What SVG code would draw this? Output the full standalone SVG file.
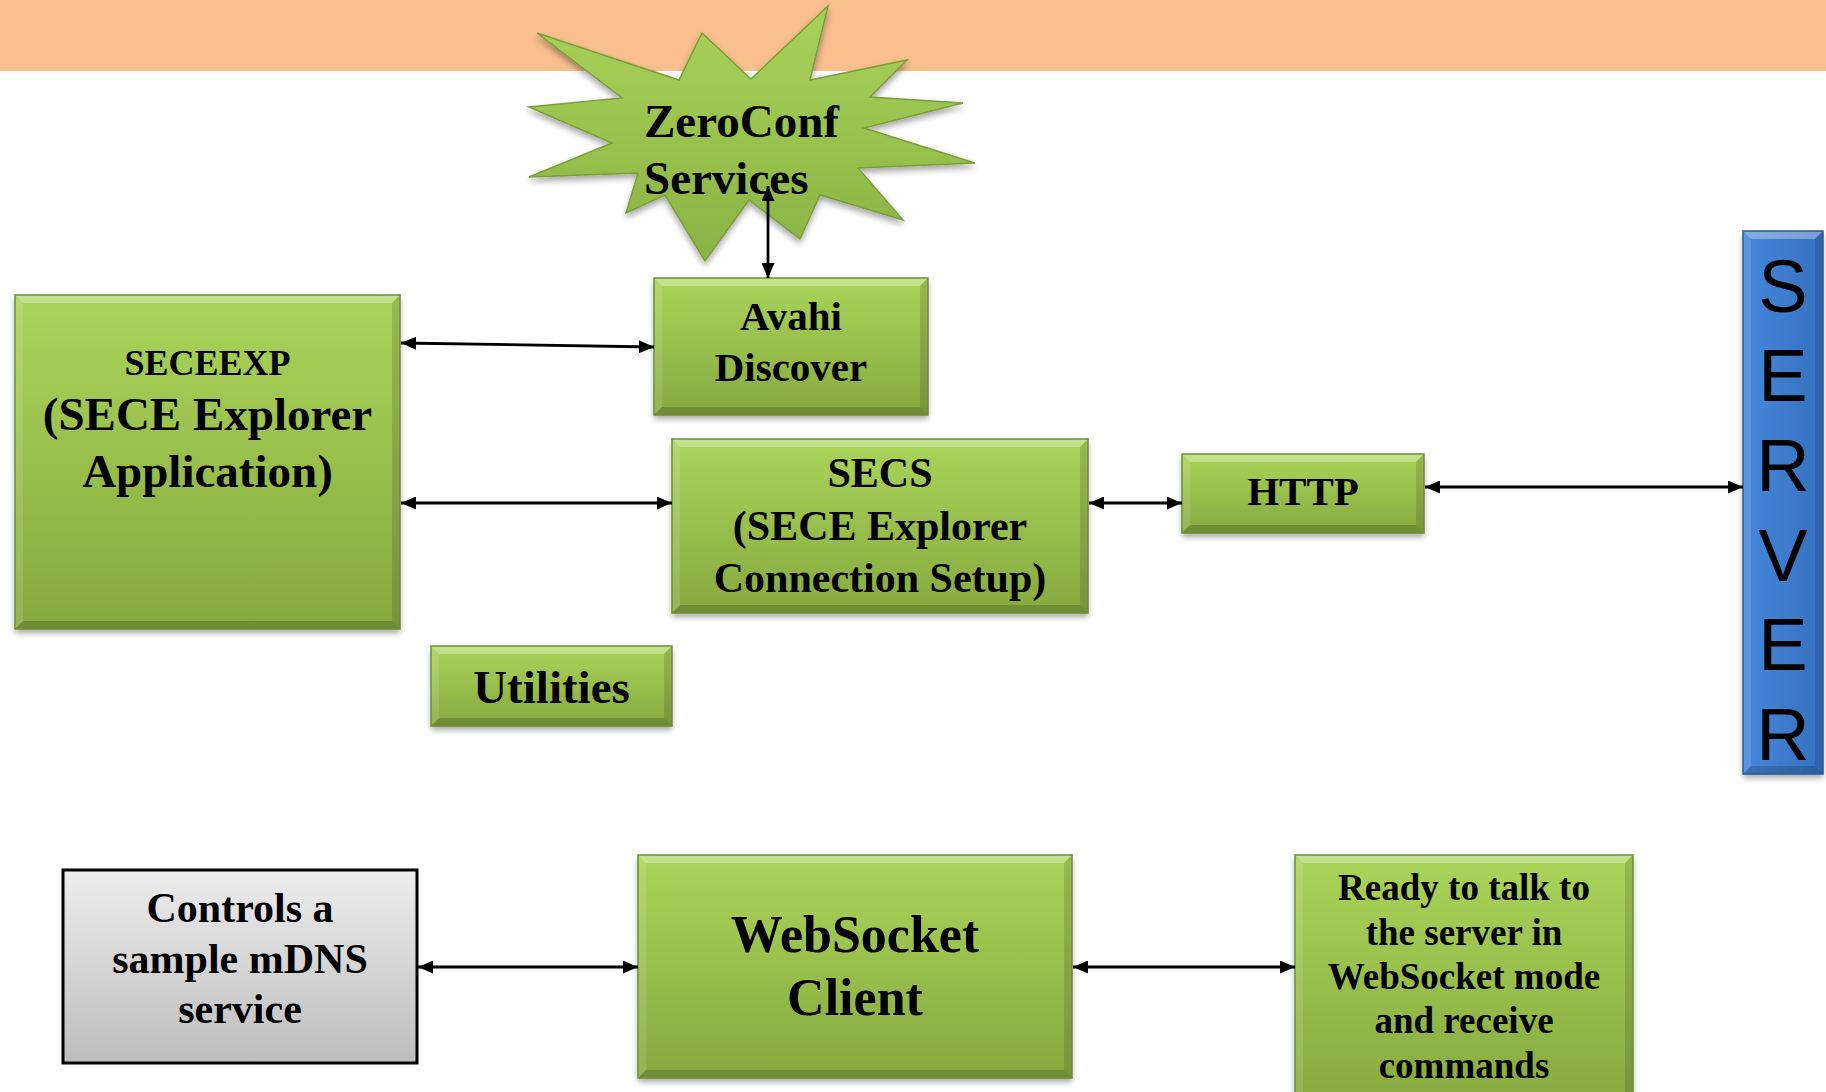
<svg xmlns="http://www.w3.org/2000/svg" width="1826" height="1092" viewBox="0 0 1826 1092">
  <defs>
    <linearGradient id="gGreen" x1="0" y1="0" x2="0" y2="1">
      <stop offset="0" stop-color="#AAD45A"/>
      <stop offset="1" stop-color="#86A93F"/>
    </linearGradient>
    <linearGradient id="gStar" x1="0" y1="0" x2="0" y2="1">
      <stop offset="0" stop-color="#A9D25A"/>
      <stop offset="1" stop-color="#8AB244"/>
    </linearGradient>
    <linearGradient id="gGray" x1="0" y1="0" x2="0" y2="1">
      <stop offset="0" stop-color="#EDEDED"/>
      <stop offset="1" stop-color="#BDBDBD"/>
    </linearGradient>
    <linearGradient id="gBlue" x1="0" y1="0" x2="1" y2="0">
      <stop offset="0" stop-color="#4688DA"/>
      <stop offset="1" stop-color="#3570C0"/>
    </linearGradient>
    <filter id="shadow" x="-10%" y="-10%" width="120%" height="125%">
      <feDropShadow dx="0" dy="4" stdDeviation="3" flood-color="#000" flood-opacity="0.35"/>
    </filter>
    <marker id="arr" viewBox="0 0 15 13" refX="15" refY="6.5" markerWidth="15" markerHeight="13" markerUnits="userSpaceOnUse" orient="auto-start-reverse">
      <path d="M0,0 L15,6.5 L0,13 z" fill="#000"/>
    </marker>
  </defs>
  <style>
    .box { fill: url(#gGreen); filter: url(#shadow); }
    .edge { fill: none; stroke: #6F8E33; stroke-width: 1.5; }
    .bt { fill: #FFFFFF; fill-opacity: 0.32; }
    .bl { fill: #FFFFFF; fill-opacity: 0.12; }
    .br { fill: #000000; fill-opacity: 0.12; }
    .bb { fill: #000000; fill-opacity: 0.17; }
    .t { font-family: "Liberation Serif", "Times New Roman", serif; font-weight: bold; fill: #000; text-anchor: middle; }
    .srv { font-family: "Liberation Sans", Arial, sans-serif; font-size: 74px; fill: #000; text-anchor: middle; }
    .con { stroke: #000; stroke-width: 2.8; fill: none; marker-start: url(#arr); marker-end: url(#arr); }
  </style>

  <rect id="band" x="0" y="0" width="1826" height="71" fill="#F8BF8D"/>

  <g id="zeroconf">
    <polygon points="537,33 679,80 702,33 751,79 828,6 810,80 907,60 870,97 963,103 864,128 975,163 858,168 903,220 820,195 800,239 749,200 705,261 665,195 626,213 638,173 529,177 612,143 529,107 622,98" fill="url(#gStar)" stroke="#7C9F38" stroke-width="1.5" filter="url(#shadow)"/>
    <text class="t" style="text-anchor:start" x="644" y="137" font-size="47">ZeroConf</text>
    <text class="t" style="text-anchor:start" x="644" y="194" font-size="47">Services</text>
  </g>

  <g id="seceexp">
    <rect class="box" x="15" y="295" width="385" height="334"/>
    <polygon class="bt" points="15,295 400,295 392,303 23,303"/>
    <polygon class="bl" points="15,295 23,303 23,621 15,629"/>
    <polygon class="br" points="400,295 400,629 392,621 392,303"/>
    <polygon class="bb" points="15,629 23,621 392,621 400,629"/>
    <rect class="edge" x="15" y="295" width="385" height="334"/>
    <text class="t" x="207.5" y="375" font-size="36">SECEEXP</text>
    <text class="t" x="207.5" y="430" font-size="47">(SECE Explorer</text>
    <text class="t" x="207.5" y="487" font-size="47">Application)</text>
  </g>

  <g id="avahi">
    <rect class="box" x="654" y="278" width="274" height="137"/>
    <polygon class="bt" points="654,278 928,278 920,286 662,286"/>
    <polygon class="bl" points="654,278 662,286 662,407 654,415"/>
    <polygon class="br" points="928,278 928,415 920,407 920,286"/>
    <polygon class="bb" points="654,415 662,407 920,407 928,415"/>
    <rect class="edge" x="654" y="278" width="274" height="137"/>
    <text class="t" x="791" y="330" font-size="41">Avahi</text>
    <text class="t" x="791" y="381" font-size="41">Discover</text>
  </g>

  <g id="secs">
    <rect class="box" x="672" y="439" width="416" height="174"/>
    <polygon class="bt" points="672,439 1088,439 1080,447 680,447"/>
    <polygon class="bl" points="672,439 680,447 680,605 672,613"/>
    <polygon class="br" points="1088,439 1088,613 1080,605 1080,447"/>
    <polygon class="bb" points="672,613 680,605 1080,605 1088,613"/>
    <rect class="edge" x="672" y="439" width="416" height="174"/>
    <text class="t" x="880" y="487" font-size="42">SECS</text>
    <text class="t" x="880" y="540" font-size="42">(SECE Explorer</text>
    <text class="t" x="880" y="592" font-size="42">Connection Setup)</text>
  </g>

  <g id="http">
    <rect class="box" x="1182" y="454" width="242" height="79"/>
    <polygon class="bt" points="1182,454 1424,454 1416,462 1190,462"/>
    <polygon class="bl" points="1182,454 1190,462 1190,525 1182,533"/>
    <polygon class="br" points="1424,454 1424,533 1416,525 1416,462"/>
    <polygon class="bb" points="1182,533 1190,525 1416,525 1424,533"/>
    <rect class="edge" x="1182" y="454" width="242" height="79"/>
    <text class="t" x="1303" y="505" font-size="41">HTTP</text>
  </g>

  <g id="utilities">
    <rect class="box" x="431" y="646" width="241" height="80"/>
    <polygon class="bt" points="431,646 672,646 664,654 439,654"/>
    <polygon class="bl" points="431,646 439,654 439,718 431,726"/>
    <polygon class="br" points="672,646 672,726 664,718 664,654"/>
    <polygon class="bb" points="431,726 439,718 664,718 672,726"/>
    <rect class="edge" x="431" y="646" width="241" height="80"/>
    <text class="t" x="551.5" y="703" font-size="47">Utilities</text>
  </g>

  <g id="server">
    <rect x="1743" y="231" width="80" height="543" fill="url(#gBlue)" filter="url(#shadow)"/>
    <polygon class="bt" points="1743,231 1823,231 1815,239 1751,239"/>
    <polygon class="bl" points="1743,231 1751,239 1751,766 1743,774"/>
    <polygon class="br" points="1823,231 1823,774 1815,766 1815,239"/>
    <polygon class="bb" points="1743,774 1751,766 1815,766 1823,774"/>
    <rect x="1743" y="231" width="80" height="543" fill="none" stroke="#2A5A9C" stroke-width="1.5"/>
    <text class="srv" x="1783" y="312">S</text>
    <text class="srv" x="1783" y="401">E</text>
    <text class="srv" x="1783" y="491">R</text>
    <text class="srv" x="1783" y="581">V</text>
    <text class="srv" x="1783" y="670">E</text>
    <text class="srv" x="1783" y="760">R</text>
  </g>

  <g id="controls">
    <rect x="63" y="870" width="354" height="193" fill="url(#gGray)" stroke="#000" stroke-width="3"/>
    <text class="t" x="240" y="922" font-size="42">Controls a</text>
    <text class="t" x="240" y="973" font-size="42">sample mDNS</text>
    <text class="t" x="240" y="1023" font-size="42">service</text>
  </g>

  <g id="websocket">
    <rect class="box" x="638" y="855" width="434" height="223"/>
    <polygon class="bt" points="638,855 1072,855 1064,863 646,863"/>
    <polygon class="bl" points="638,855 646,863 646,1070 638,1078"/>
    <polygon class="br" points="1072,855 1072,1078 1064,1070 1064,863"/>
    <polygon class="bb" points="638,1078 646,1070 1064,1070 1072,1078"/>
    <rect class="edge" x="638" y="855" width="434" height="223"/>
    <text class="t" x="855" y="952" font-size="52">WebSocket</text>
    <text class="t" x="855" y="1015" font-size="52">Client</text>
  </g>

  <g id="ready">
    <rect class="box" x="1295" y="855" width="338" height="250"/>
    <polygon class="bt" points="1295,855 1633,855 1625,863 1303,863"/>
    <polygon class="bl" points="1295,855 1303,863 1303,1097 1295,1105"/>
    <polygon class="br" points="1633,855 1633,1105 1625,1097 1625,863"/>
    <rect class="edge" x="1295" y="855" width="338" height="250"/>
    <text class="t" x="1464" y="900" font-size="37">Ready to talk to</text>
    <text class="t" x="1464" y="945" font-size="37">the server in</text>
    <text class="t" x="1464" y="989" font-size="37">WebSocket mode</text>
    <text class="t" x="1464" y="1033" font-size="37">and receive</text>
    <text class="t" x="1464" y="1078" font-size="37">commands</text>
  </g>

  <g id="connectors">
    <line class="con" x1="401" y1="343" x2="654" y2="347"/>
    <line class="con" x1="401" y1="503" x2="672" y2="503"/>
    <line class="con" x1="1089" y1="503" x2="1182" y2="503"/>
    <line class="con" x1="1425" y1="487" x2="1743" y2="487"/>
    <line class="con" x1="768" y1="186" x2="768" y2="278"/>
    <line class="con" x1="418" y1="967" x2="638" y2="967"/>
    <line class="con" x1="1073" y1="967" x2="1295" y2="967"/>
  </g>
</svg>
